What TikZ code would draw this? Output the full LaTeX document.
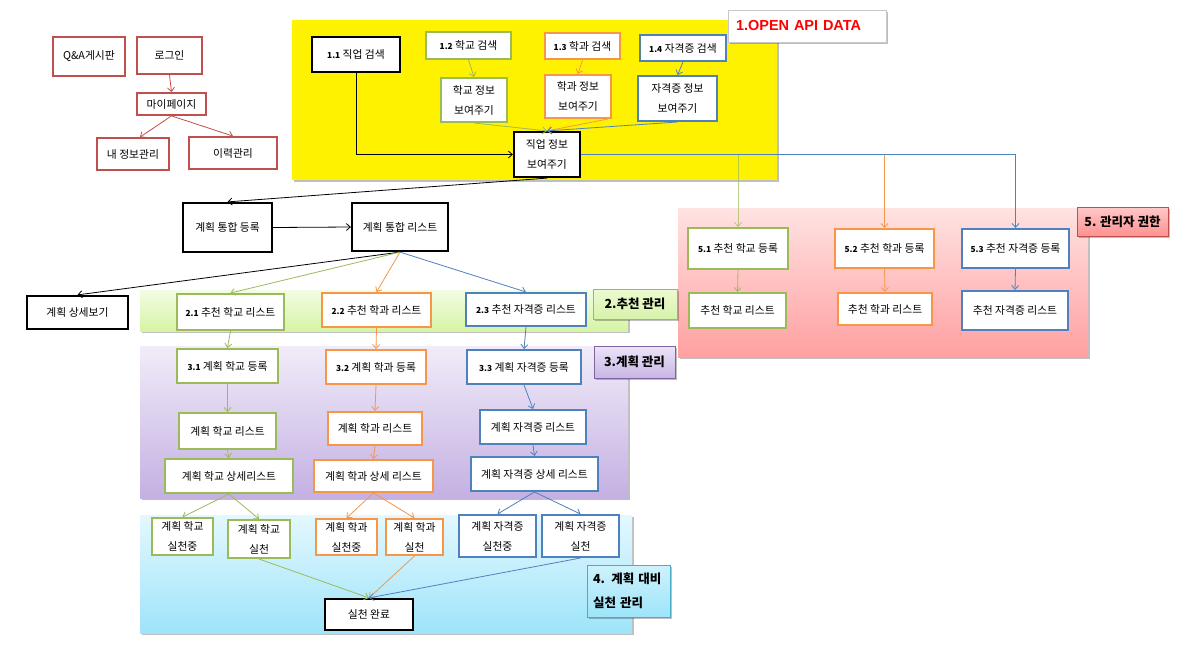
\documentclass[tikz,border=0pt]{standalone}
\usepackage{fontspec}
\setmainfont{Noto Sans CJK KR}
\newfontfamily\latb{Liberation Sans}
\usetikzlibrary{arrows.meta,shadows}
\definecolor{cred}{HTML}{C0504D}
\definecolor{cgreen}{HTML}{9BBB59}
\definecolor{corange}{HTML}{F79646}
\definecolor{cblue}{HTML}{4F81BD}
\definecolor{cpurple}{HTML}{8064A2}
\definecolor{cteal}{HTML}{4BACC6}
\newcommand\nm[1]{{\fontsize{8.3}{9}\selectfont\bfseries #1}}
\begin{document}
\begin{tikzpicture}[x=1pt,y=-1pt,
  box/.style={draw, fill=white, inner sep=1pt, align=center, font=\fontsize{10.8}{20}\selectfont},
  rbox/.style={box, draw=cred, line width=1.8pt},
  gbox/.style={box, draw=cgreen, line width=2pt},
  obox/.style={box, draw=corange, line width=2pt},
  bbox/.style={box, draw=cblue, line width=2pt},
  kbox/.style={box, draw=black, line width=2.2pt},
  con/.style={line width=0.8pt, -{Straight Barb[length=4pt,width=7pt]}},
  gcon/.style={con, draw=cgreen},
  ocon/.style={con, draw=corange},
  bcon/.style={con, draw=cblue},
  kcon/.style={con, draw=black},
  rcon/.style={con, draw=cred},
  shad/.style={drop shadow={shadow xshift=2pt,shadow yshift=-2pt,fill=black,opacity=0.25}},
  lbl/.style={draw, line width=1pt, shad, align=left, inner sep=0pt, font=\fontsize{12.5}{24}\selectfont\bfseries}
]
\useasboundingbox (0,0) rectangle (1188,648);
\fill[white] (0,0) rectangle (1188,648);

% ---- group areas ----
\path[shad, fill=yellow] (292,20) rectangle (777,180);
\path[shad, top color={rgb,255:red,255;green,226;blue,226}, bottom color={rgb,255:red,255;green,160;blue,160}] (678,208) rectangle (1088,357);
\path[shad, top color={rgb,255:red,243;green,252;blue,228}, bottom color={rgb,255:red,214;green,244;blue,164}] (140,290) rectangle (628,331);
\path[shad, top color={rgb,255:red,241;green,236;blue,249}, bottom color={rgb,255:red,196;green,176;blue,226}] (140,346) rectangle (628,498);
\path[shad, top color={rgb,255:red,228;green,248;blue,254}, bottom color={rgb,255:red,158;green,228;blue,250}] (140,515) rectangle (632,633);

% ---- group labels ----
\node[draw={rgb,255:red,200;green,200;blue,200}, line width=0.8pt, fill=white, shad, minimum height=32, text width=142, inner xsep=8, align=left, font=\latb\fontsize{14.5}{16}\selectfont\bfseries, text={rgb,255:red,255;green,0;blue,0}] (apilbl) at (807,26) {1.OPEN API DATA};
\node[lbl, draw=cred, top color={rgb,255:red,255;green,200;blue,200}, bottom color={rgb,255:red,255;green,145;blue,145}, minimum height=29, minimum width=91] (lbl5) at (1122.5,221.5) {5. 관리자 권한};
\node[lbl, draw=cgreen, top color={rgb,255:red,236;green,250;blue,210}, bottom color={rgb,255:red,214;green,242;blue,170}, minimum height=30, minimum width=84] (lbl2) at (635,304) {2.추천 관리};
\node[lbl, draw=cpurple, top color={rgb,255:red,236;green,228;blue,248}, bottom color={rgb,255:red,200;green,182;blue,228}, minimum height=32, minimum width=81] (lbl3) at (634.5,362) {3.계획 관리};
\node[lbl, draw=cteal, top color={rgb,255:red,206;green,242;blue,252}, bottom color={rgb,255:red,158;green,228;blue,250}, minimum height=52, text width=71, inner xsep=6] (lbl4) at (628.5,591) {4. 계획 대비\\실천 관리};

% ---- top-left ----
\node[rbox, minimum width=72, minimum height=39] (qa) at (89,56.5) {Q\&A게시판};
\node[rbox, minimum width=65, minimum height=37] (login) at (169.5,55.5) {로그인};
\node[rbox, minimum width=69, minimum height=22] (mypage) at (171.5,104) {마이페이지};
\node[rbox, minimum width=72, minimum height=32] (myinfo) at (133,154) {내 정보관리};
\node[rbox, minimum width=88, minimum height=32] (history) at (233,153) {이력관리};

% ---- open api ----
\node[kbox, minimum width=88, minimum height=35] (n11) at (356,54.5) {\nm{1.1} 직업 검색};
\node[gbox, minimum width=85, minimum height=27] (n12) at (468.5,45.5) {\nm{1.2} 학교 검색};
\node[obox, minimum width=75, minimum height=26] (n13) at (582.5,46) {\nm{1.3} 학과 검색};
\node[bbox, minimum width=86, minimum height=26] (n14) at (683,48) {\nm{1.4} 자격증 검색};
\node[gbox, minimum width=66, minimum height=44] (i12) at (474,100) {학교 정보\\보여주기};
\node[obox, minimum width=66, minimum height=43] (i13) at (578,96.5) {학과 정보\\보여주기};
\node[bbox, minimum width=79, minimum height=45] (i14) at (677.5,98.5) {자격증 정보\\보여주기};
\node[kbox, minimum width=66, minimum height=45] (job) at (547,154.5) {직업 정보\\보여주기};

% ---- admin ----
\node[gbox, minimum width=100, minimum height=41] (s51) at (738,248.5) {\nm{5.1} 추천 학교 등록};
\node[obox, minimum width=99, minimum height=39] (s52) at (884.5,248.5) {\nm{5.2} 추천 학과 등록};
\node[bbox, minimum width=107, minimum height=39] (s53) at (1015.5,248.5) {\nm{5.3} 추천 자격증 등록};
\node[gbox, minimum width=97, minimum height=35] (r51) at (737.5,310.5) {추천 학교 리스트};
\node[obox, minimum width=94, minimum height=32] (r52) at (885,309) {추천 학과 리스트};
\node[bbox, minimum width=106, minimum height=39] (r53) at (1015,310.5) {추천 자격증 리스트};

% ---- plan integrated ----
\node[kbox, minimum width=89, minimum height=49] (preg) at (227.5,227.5) {계획 통합 등록};
\node[kbox, minimum width=96, minimum height=48] (plist) at (400,227) {계획 통합 리스트};
\node[kbox, minimum width=101, minimum height=33] (pdet) at (77.5,312.5) {계획 상세보기};

% ---- recommend ----
\node[gbox, minimum width=107, minimum height=36] (r21) at (230.5,312) {\nm{2.1} 추천 학교 리스트};
\node[obox, minimum width=109, minimum height=34] (r22) at (376.5,310) {\nm{2.2} 추천 학과 리스트};
\node[bbox, minimum width=120, minimum height=33] (r23) at (526,309.5) {\nm{2.3} 추천 자격증 리스트};

% ---- plan ----
\node[gbox, minimum width=101, minimum height=34] (p31) at (227.5,366) {\nm{3.1} 계획 학교 등록};
\node[obox, minimum width=100, minimum height=34] (p32) at (376,367) {\nm{3.2} 계획 학과 등록};
\node[bbox, minimum width=114, minimum height=34] (p33) at (524,367) {\nm{3.3} 계획 자격증 등록};
\node[gbox, minimum width=97, minimum height=36] (l31) at (227.5,431) {계획 학교 리스트};
\node[obox, minimum width=94, minimum height=33] (l32) at (375,428.5) {계획 학과 리스트};
\node[bbox, minimum width=106, minimum height=34] (l33) at (533,427) {계획 자격증 리스트};
\node[gbox, minimum width=128, minimum height=34] (d31) at (229,476) {계획 학교 상세리스트};
\node[obox, minimum width=119, minimum height=32] (d32) at (373.5,476) {계획 학과 상세 리스트};
\node[bbox, minimum width=127, minimum height=34] (d33) at (534.5,474) {계획 자격증 상세 리스트};

% ---- practice ----
\node[gbox, minimum width=61, minimum height=37] (a1) at (182.5,536.5) {계획 학교\\실천중};
\node[gbox, minimum width=62, minimum height=38] (a2) at (259,539) {계획 학교\\실천};
\node[obox, minimum width=61, minimum height=36] (a3) at (346.5,537) {계획 학과\\실천중};
\node[obox, minimum width=57, minimum height=36] (a4) at (414.5,537) {계획 학과\\실천};
\node[bbox, minimum width=77, minimum height=42] (a5) at (497.5,536) {계획 자격증\\실천중};
\node[bbox, minimum width=77, minimum height=42] (a6) at (580.5,536) {계획 자격증\\실천};
\node[kbox, minimum width=88, minimum height=31] (done) at (369,614.5) {실천 완료};

% ---- connectors ----
\draw[rcon] (login.south) -- (mypage.north);
\draw[rcon] (mypage.south) -- ([xshift=7pt]myinfo.north);
\draw[rcon] (mypage.south) -- (history.north);

\draw[gcon] (n12.south) -- (i12.north);
\draw[ocon] (n13.south) -- (i13.north);
\draw[bcon] (n14.south) -- (i14.north);
\draw[gcon] (i12.south) -- (job.north);
\draw[ocon] ([xshift=-4pt]i13.south east) -- (job.north);
\draw[bcon] (i14.south) -- (job.north);
\draw[kcon] (n11.south) |- (job.west);
\draw[kcon] (job.south) -- (preg.north);

\draw[gcon, draw opacity=0.7] (job.east) -| (s51.north);
\draw[ocon] (job.east) -| (s52.north);
\draw[bcon] (job.east) -| (s53.north);
\draw[gcon] (s51.south) -- (r51.north);
\draw[ocon] (s52.south) -- (r52.north);
\draw[bcon] (s53.south) -- (r53.north);

\draw[kcon] (preg.east) -- (plist.west);
\draw[kcon] (plist.south) -- (pdet.north);
\draw[gcon] (plist.south) -- (r21.north);
\draw[ocon] (plist.south) -- (r22.north);
\draw[bcon] (plist.south) -- (r23.north);

\draw[gcon] (r21.south) -- (p31.north);
\draw[ocon] (r22.south) -- (p32.north);
\draw[bcon] (r23.south) -- (p33.north);
\draw[gcon] (p31.south) -- (l31.north);
\draw[ocon] (p32.south) -- (l32.north);
\draw[bcon] (p33.south) -- (l33.north);
\draw[gcon] (l31.south) -- (d31.north);
\draw[ocon] (l32.south) -- (d32.north);
\draw[bcon] (l33.south) -- (d33.north);

\draw[gcon] (d31.south) -- (a1.north);
\draw[gcon] (d31.south) -- (a2.north);
\draw[ocon] (d32.south) -- (a3.north);
\draw[ocon] (d32.south) -- (a4.north);
\draw[bcon] (d33.south) -- (a5.north);
\draw[bcon] (d33.south) -- (a6.north);

\draw[gcon] (a2.south) -- (done.north);
\draw[ocon] (a4.south) -- (done.north);
\draw[bcon] (a6.south) -- (done.north);
\end{tikzpicture}
\end{document}
